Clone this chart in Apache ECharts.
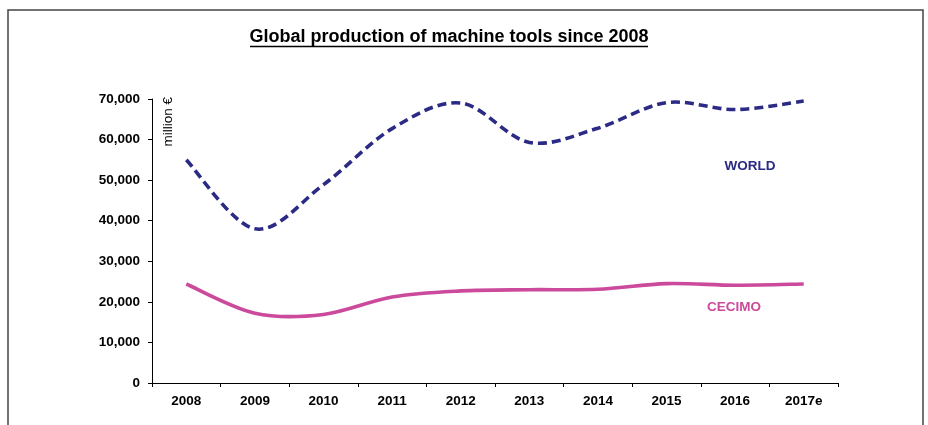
<!DOCTYPE html>
<html>
<head>
<meta charset="utf-8">
<script src="https://cdn.jsdelivr.net/npm/echarts@6/dist/echarts.min.js"></script>
<style>
  html, body { margin: 0; padding: 0; background: #fff; }
  #chart { width: 928px; height: 425px; }
</style>
</head>
<body>
<div id="chart"></div>
<script>
// Production of machine tools, million €
const years = ['2008', '2009', '2010', '2011', '2012', '2013', '2014', '2015', '2016', '2017e'];
const world = [55000, 38000, 48900, 62700, 69000, 59300, 62800, 69100, 67400, 69500];
const cecimo = [24400, 17200, 16900, 21200, 22700, 23000, 23100, 24500, 24100, 24400];
const yTicks = { min: 0, max: 70000, interval: 10000 };

const chart = echarts.init(document.getElementById('chart'));
const font = 'Liberation Sans, Arial, sans-serif';
const labelSize = 13.5;

// Smooth curve through every data point (Catmull-Rom segments as cubic Béziers),
// positioned with the chart's own coordinate system.
function splineSeries(name, values, lineStyle) {
  return {
    name: name,
    type: 'custom',
    data: values.map((v, i) => [i, v]),
    encode: { x: 0, y: 1 },
    silent: true,
    renderItem: function (params, api) {
      if (params.dataIndex !== 0) return null;
      const p = values.map((v, i) => api.coord([i, v]));
      const n = p.length;
      let d = 'M' + p[0][0] + ' ' + p[0][1];
      for (let i = 0; i < n - 1; i++) {
        const p0 = p[Math.max(i - 1, 0)];
        const p1 = p[i];
        const p2 = p[i + 1];
        const p3 = p[Math.min(i + 2, n - 1)];
        const c1x = p1[0] + (p2[0] - p0[0]) / 6;
        const c1y = p1[1] + (p2[1] - p0[1]) / 6;
        const c2x = p2[0] - (p3[0] - p1[0]) / 6;
        const c2y = p2[1] - (p3[1] - p1[1]) / 6;
        d += ' C' + c1x + ' ' + c1y + ' ' + c2x + ' ' + c2y + ' ' + p2[0] + ' ' + p2[1];
      }
      return {
        type: 'path',
        shape: { pathData: d },
        style: Object.assign({ fill: null, lineCap: 'butt', lineJoin: 'round' }, lineStyle)
      };
    }
  };
}

chart.setOption({
  animation: false,
  backgroundColor: '#ffffff',
  grid: { left: 152, right: 90, top: 99, bottom: 42, containLabel: false },
  xAxis: {
    type: 'category',
    data: years,
    boundaryGap: true,
    axisLine: { lineStyle: { color: '#000', width: 1 } },
    axisTick: { show: true, length: 4, lineStyle: { color: '#000' } },
    axisLabel: { fontFamily: font, fontSize: labelSize, fontWeight: 'bold', color: '#000', margin: 11 }
  },
  yAxis: {
    type: 'value',
    min: yTicks.min,
    max: yTicks.max,
    interval: yTicks.interval,
    splitLine: { show: false },
    axisLine: { show: true, lineStyle: { color: '#000', width: 1 } },
    axisTick: { show: true, length: 4, lineStyle: { color: '#000' } },
    axisLabel: {
      fontFamily: font, fontSize: labelSize, fontWeight: 'bold', color: '#000', margin: 12,
      formatter: v => v.toLocaleString('en-US')
    }
  },
  series: [
    splineSeries('WORLD', world, { stroke: '#2B2A84', lineWidth: 3.6, lineDash: [9, 5] }),
    splineSeries('CECIMO', cecimo, { stroke: '#CC4A9B', lineWidth: 3.6 })
  ],
  graphic: [
    // frame around the chart (open at the bottom)
    { type: 'polyline', shape: { points: [[8, 425], [8, 10], [923, 10], [923, 425]] },
      style: { stroke: '#444', lineWidth: 1.5, fill: null }, silent: true },
    // title and its underline
    { type: 'text', x: 449, y: 37,
      style: { text: 'Global production of machine tools since 2008', fontFamily: font, fontSize: 18,
               fontWeight: 'bold', fill: '#000', align: 'center', verticalAlign: 'middle' } },
    { type: 'line', shape: { x1: 250, y1: 46.5, x2: 648, y2: 46.5 },
      style: { stroke: '#000', lineWidth: 1.3 } },
    // unit label
    { type: 'text', x: 168, y: 97, rotation: Math.PI / 2,
      style: { text: 'million €', fontFamily: font, fontSize: 13.5, fill: '#000', align: 'right', verticalAlign: 'middle' } },
    // series names
    { type: 'text', x: 750, y: 166,
      style: { text: 'WORLD', fontFamily: font, fontSize: labelSize, fontWeight: 'bold', fill: '#2B2A84', align: 'center', verticalAlign: 'middle' } },
    { type: 'text', x: 734, y: 307,
      style: { text: 'CECIMO', fontFamily: font, fontSize: labelSize, fontWeight: 'bold', fill: '#CC4A9B', align: 'center', verticalAlign: 'middle' } }
  ]
});
</script>
</body>
</html>
